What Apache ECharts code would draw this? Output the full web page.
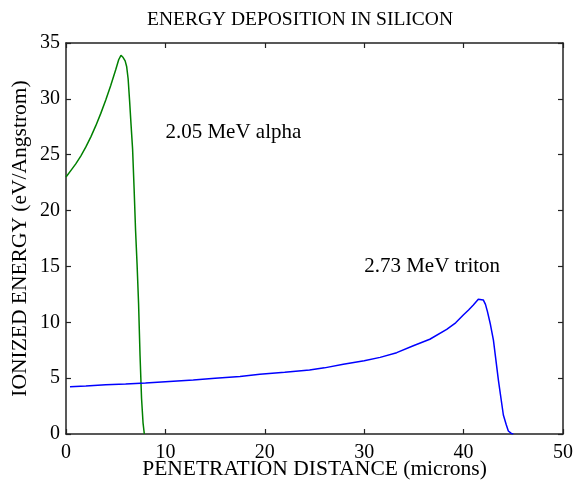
<!DOCTYPE html>
<html><head><meta charset="utf-8">
<script src="https://cdn.jsdelivr.net/npm/echarts@6/dist/echarts.min.js"></script>
<style>html,body{margin:0;padding:0;background:#fff}#c{width:576px;height:485px}</style>
</head><body><div id="c"></div>
<script>
var alphaX = [0, 0.5, 1.0, 1.5, 2.0, 2.5, 3.0, 3.5, 4.0, 4.5, 5.0, 5.3, 5.53, 5.75, 5.95, 6.1, 6.25, 6.4, 6.55, 6.7, 6.85, 7.0, 7.15, 7.3, 7.45, 7.6, 7.75, 7.88];
var alphaY = [23.0, 23.6, 24.2, 24.9, 25.7, 26.6, 27.6, 28.7, 29.9, 31.2, 32.6, 33.5, 33.9, 33.7, 33.4, 32.9, 31.8, 29.8, 27.6, 25.5, 22.0, 18.2, 15.2, 11.7, 7.0, 3.2, 1.0, 0];
var tritonX = [0.4, 2, 4, 6, 8, 10, 12.8, 15, 17.5, 19.5, 22, 24.5, 26, 27.9, 30, 31.6, 33.27, 34.94, 36.6, 38.3, 39.2, 39.97, 40.5, 40.98, 41.48, 41.98, 42.2, 42.4, 42.7, 43.0, 43.5, 44.0, 44.3, 44.5, 44.8, 45.0];
var tritonY = [4.24, 4.3, 4.4, 4.48, 4.57, 4.68, 4.83, 4.98, 5.15, 5.34, 5.53, 5.73, 5.92, 6.24, 6.55, 6.86, 7.28, 7.9, 8.48, 9.37, 9.95, 10.65, 11.1, 11.55, 12.06, 12.0, 11.6, 10.95, 9.8, 8.4, 4.83, 1.7, 0.8, 0.27, 0.05, 0];
var alphaLabel = {text: '2.05 MeV alpha', x: 10, y: 27};
var tritonLabel = {text: '2.73 MeV triton', x: 30, y: 15};
var titleText = 'ENERGY DEPOSITION IN SILICON';
var xName = 'PENETRATION DISTANCE (microns)';
var yName = 'IONIZED ENERGY (eV/Angstrom)';

function zip(a, b) { return a.map(function (v, i) { return [v, b[i]]; }); }
var FONT = 'Liberation Serif';
var axCol = '#222';
function axisCommon(extra) {
  return Object.assign({
    axisLine: {show: true, onZero: false, lineStyle: {color: axCol, width: 1.5}},
    axisTick: {show: true, inside: true, length: 5, lineStyle: {color: axCol, width: 1.2}},
    splitLine: {show: false}
  }, extra);
}
function lbl(l) {
  return {
    symbol: 'none', silent: true,
    data: [{coord: [l.x, l.y], symbol: 'circle', symbolSize: 0,
      label: {show: true, position: 'right', distance: 0, formatter: l.text,
        fontFamily: FONT, fontSize: 21, color: '#000'}}]
  };
}
var chart = echarts.init(document.getElementById('c'));
chart.setOption({
  animation: false,
  backgroundColor: '#fff',
  title: {text: titleText, left: 142, top: 5, textStyle: {fontFamily: FONT, fontSize: 19.5, fontWeight: 'normal', color: '#000'}},
  grid: {left: 66, right: 13, top: 43, bottom: 51, containLabel: false, outerBoundsMode: 'none'},
  xAxis: [
    axisCommon({type: 'value', min: 0, max: 50, interval: 10, position: 'bottom',
      name: xName, nameLocation: 'middle', nameGap: 24, nameMoveOverlap: false,
      nameTextStyle: {fontFamily: FONT, fontSize: 21.5, color: '#000'},
      axisLabel: {fontFamily: FONT, fontSize: 20, color: '#000', margin: 9}}),
    axisCommon({type: 'value', min: 0, max: 50, interval: 10, position: 'top', axisLabel: {show: false}})
  ],
  yAxis: [
    axisCommon({type: 'value', min: 0, max: 35, interval: 5, position: 'left',
      name: yName, nameLocation: 'middle', nameGap: 35, nameMoveOverlap: false,
      nameTextStyle: {fontFamily: FONT, fontSize: 21.5, color: '#000'},
      axisLabel: {fontFamily: FONT, fontSize: 20, color: '#000', margin: 6}}),
    axisCommon({type: 'value', min: 0, max: 35, interval: 5, position: 'right', axisLabel: {show: false}})
  ],
  series: [
    {type: 'line', data: zip(alphaX, alphaY), showSymbol: false, smooth: false,
      lineStyle: {color: '#008000', width: 1.5}, itemStyle: {color: '#008000'}, markPoint: lbl(alphaLabel)},
    {type: 'line', data: zip(tritonX, tritonY), showSymbol: false, smooth: false,
      lineStyle: {color: '#0000ff', width: 1.5}, itemStyle: {color: '#0000ff'}, markPoint: lbl(tritonLabel)}
  ]
});
</script></body></html>
